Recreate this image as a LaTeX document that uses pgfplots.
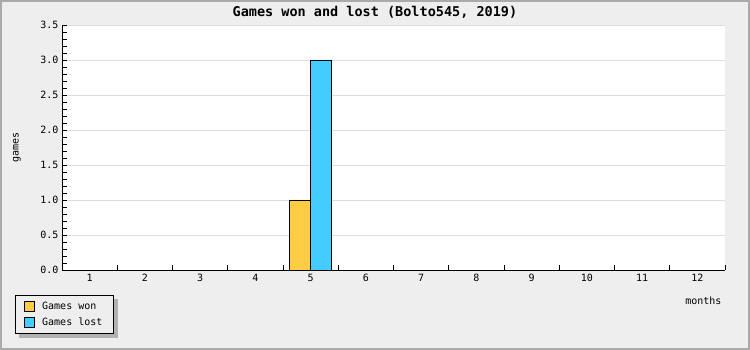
\documentclass[border=0pt]{standalone}
\usepackage{pgfplots}
\pgfplotsset{compat=1.18}
\usepackage{fontspec}
\setmainfont{DejaVu Sans Mono}
\setmonofont{DejaVu Sans Mono}
\definecolor{bg}{HTML}{EEEEEE}
\definecolor{won}{HTML}{FFCC44}
\definecolor{lost}{HTML}{44CCFF}
\definecolor{gridc}{HTML}{DDDDDD}
\definecolor{frame}{HTML}{AAAAAA}
\pgfdeclarelayer{bgl}
\pgfdeclarelayer{shadowl}
\pgfsetlayers{bgl,shadowl,main}
\begin{document}
\begin{tikzpicture}
\useasboundingbox (0,0) rectangle (750bp,350bp);
\begin{pgfonlayer}{bgl}
\fill[bg] (0,0) rectangle (750bp,350bp);
\draw[frame, line width=2bp] (1bp,1bp) rectangle (749bp,349bp);
\end{pgfonlayer}
\begin{axis}[
  at={(62bp,80bp)}, anchor=south west,
  scale only axis, width=663bp, height=245bp,
  axis background/.style={fill=white},
  axis x line=bottom, axis y line=left,
  axis line style={-, black, line width=1bp},
  ybar=0pt, bar width=21bp,
  xmin=0.5, xmax=12.5, ymin=0, ymax=3.5,
  xtick={1,...,12},
  minor xtick={0.5,1.5,...,12.5},
  ytick={0,0.5,...,3.5},
  minor ytick={0.1,0.2,...,3.45},
  tick align=inside,
  major tick length=5bp,
  x tick style={draw=none},
  minor x tick style={draw=black, line width=0.8bp},
  y tick style={black, line width=0.8bp},
  minor tick length=5bp,
  ymajorgrids, grid style={gridc, line width=0.8bp},
  /pgf/number format/assume math mode=true,
  yticklabel style={/pgf/number format/fixed, /pgf/number format/fixed zerofill, /pgf/number format/precision=1},
  tick label style={font=\fontsize{10bp}{12bp}\selectfont},
  xticklabel style={yshift=-1bp},
  every axis title shift=0pt,
  title={Games won and lost (Bolto545, 2019)},
  title style={at={(axis description cs:0.472,1.053)}, anchor=center, font=\fontsize{13.5bp}{16bp}\selectfont\bfseries},
  ylabel={games},
  ylabel style={at={(axis description cs:-0.068,0.5)}, anchor=center, rotate=0, font=\fontsize{10bp}{12bp}\selectfont},
  xlabel={months},
  xlabel style={at={(axis description cs:1,-0.1265)}, anchor=east, font=\fontsize{10bp}{12bp}\selectfont},
  legend style={name=leg, at={(axis description cs:-0.0709,-0.102)}, anchor=north west, draw=black, line width=0.8bp, fill=bg,
    font=\fontsize{10bp}{12bp}\selectfont, inner xsep=9bp, inner ysep=4.5bp, row sep=3bp, column sep=5bp},
  legend cell align=left,
  every axis plot post/.append style={legend image code/.code={\draw[##1, draw=black, line width=0.8bp] (0bp,-5bp) rectangle (10bp,5bp);}},
]
\addplot[fill=won, draw=black, line width=0.8bp] coordinates {(1,0) (2,0) (3,0) (4,0) (5,1) (6,0) (7,0) (8,0) (9,0) (10,0) (11,0) (12,0)};
\addplot[fill=lost, draw=black, line width=0.8bp] coordinates {(1,0) (2,0) (3,0) (4,0) (5,3) (6,0) (7,0) (8,0) (9,0) (10,0) (11,0) (12,0)};
\legend{Games won, Games lost}
\end{axis}
\begin{pgfonlayer}{shadowl}
\fill[gray!60] ([shift={(4bp,-4bp)}]leg.south west) rectangle ([shift={(4bp,-4bp)}]leg.north east);
\end{pgfonlayer}
\end{tikzpicture}
\end{document}
